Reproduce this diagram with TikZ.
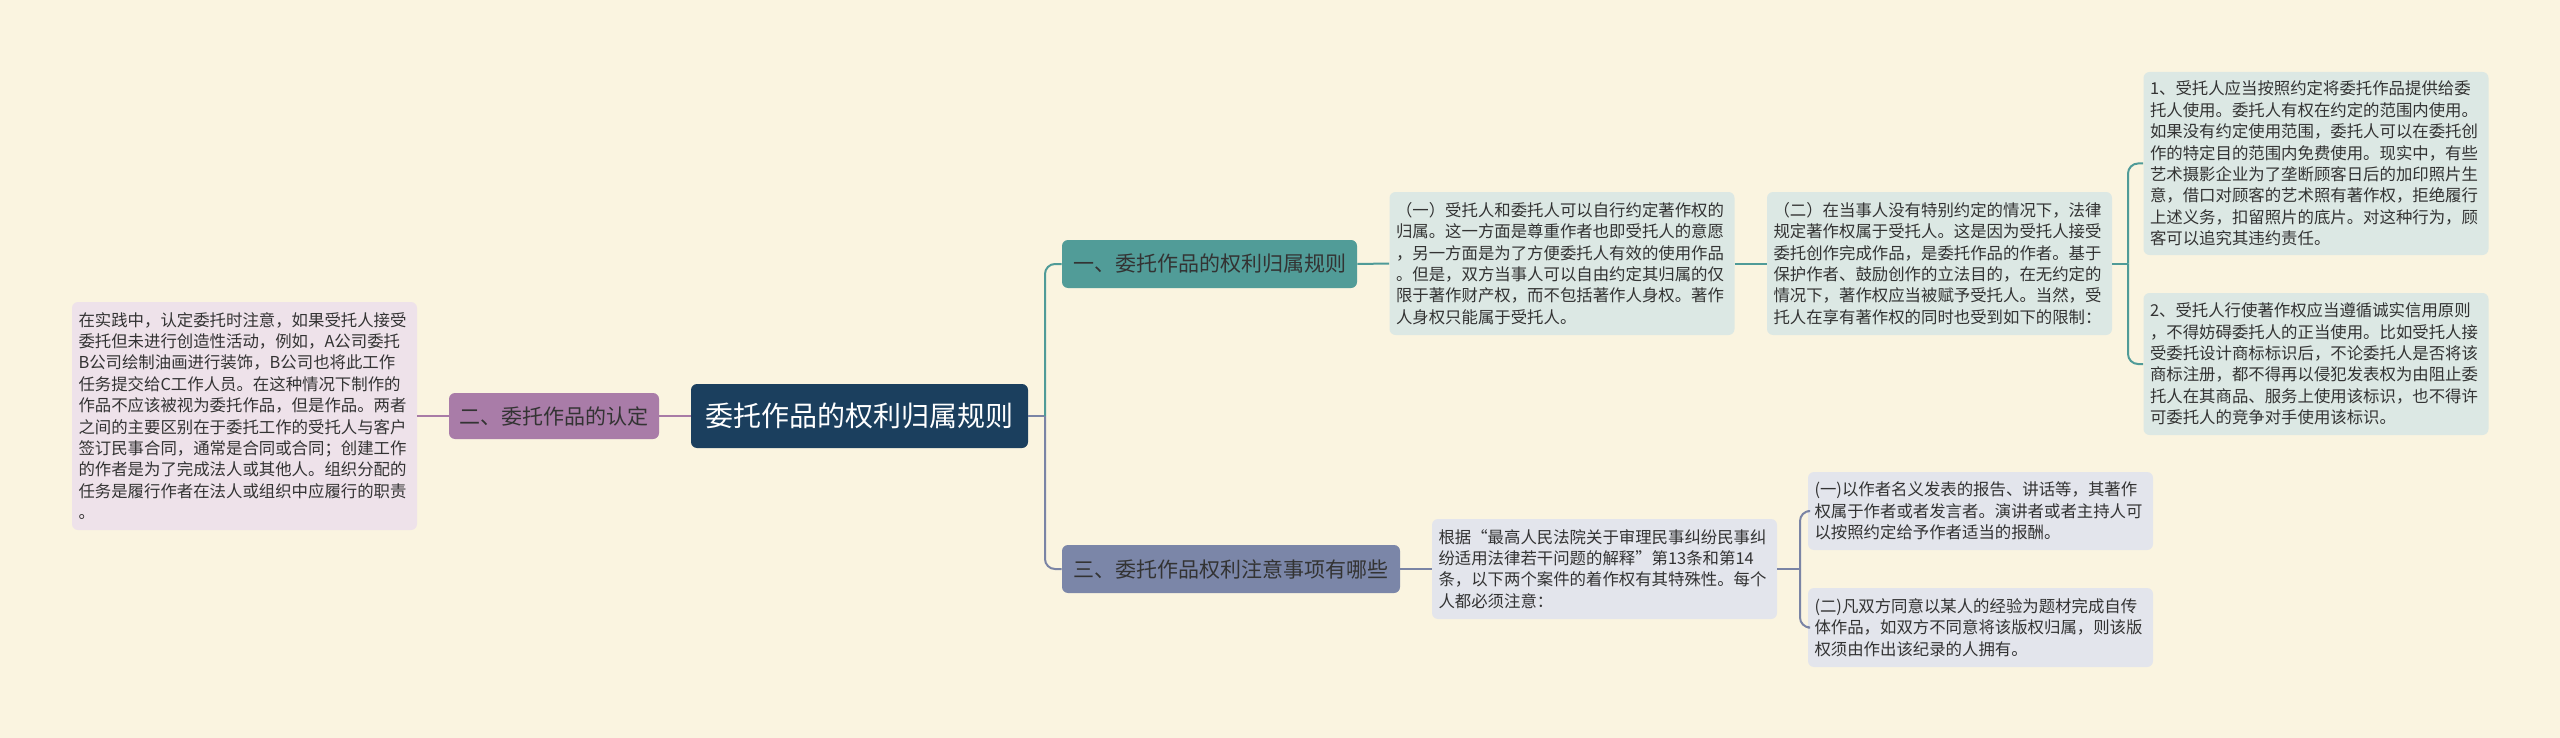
\documentclass[tikz,border=0pt]{standalone}
\usepackage{fontspec}
\setmainfont{Noto Sans CJK SC}
\definecolor{bg}{HTML}{FAF4E0}
\definecolor{rootfill}{HTML}{1B3F5E}
\definecolor{tealfill}{HTML}{519C98}
\definecolor{purplefill}{HTML}{A97CA8}
\definecolor{slatefill}{HTML}{7B86A8}
\definecolor{tealleaf}{HTML}{DCE8E4}
\definecolor{purpleleaf}{HTML}{EEE2EA}
\definecolor{slateleaf}{HTML}{E3E5EC}
\definecolor{tealline}{HTML}{4F9B98}
\definecolor{purpleline}{HTML}{A87BA6}
\definecolor{slateline}{HTML}{7A84A5}
\definecolor{txt}{HTML}{333333}
\begin{document}
\begin{tikzpicture}[x=0.5pt,y=-0.5pt,
  base/.style={rounded corners=3pt, inner ysep=0pt, text=txt},
  rootbox/.style={base, fill=rootfill, text=white, font=\fontsize{14pt}{16pt}\selectfont,
    minimum width=168.5pt, minimum height=32pt, inner xsep=0pt},
  branch/.style={base, font=\fontsize{10.5pt}{12pt}\selectfont, minimum height=24pt, inner xsep=0pt},
  leaf/.style={base, font=\fontsize{8.2pt}{10.7pt}\selectfont, align=left,
    text width=166pt, inner xsep=3.25pt},
  conn/.style={line width=1pt},
  elbow/.style={line width=1pt, rounded corners=5pt}
]
\fill[bg] (0,0) rectangle (2560,738);
\useasboundingbox (0,0) rectangle (2560,738);

% root and branches
\node[rootbox] (root) at (859.5,416) {委托作品的权利归属规则};
\node[branch, fill=tealfill, minimum width=147.5pt] (b1) at (1209.5,264) {一、委托作品的权利归属规则};
\node[branch, fill=purplefill, minimum width=105pt, minimum height=23pt] (b2) at (554,416) {二、委托作品的认定};
\node[branch, fill=slatefill, minimum width=169pt] (b3) at (1231,569) {三、委托作品权利注意事项有哪些};

% left leaf
\node[leaf, fill=purpleleaf, minimum height=114pt] (lL) at (244.5,416) {在实践中，认定委托时注意，如果受托人接受\\委托但未进行创造性活动，例如，A公司委托\\B公司绘制油画进行装饰，B公司也将此工作\\任务提交给C工作人员。在这种情况下制作的\\作品不应该被视为委托作品，但是作品。两者\\之间的主要区别在于委托工作的受托人与客户\\签订民事合同，通常是合同或合同；创建工作\\的作者是为了完成法人或其他人。组织分配的\\任务是履行作者在法人或组织中应履行的职责\\。};

% teal leaves
\node[leaf, fill=tealleaf, minimum height=71.5pt] (l1) at (1562,263.5) {（一）受托人和委托人可以自行约定著作权的\\归属。这一方面是尊重作者也即受托人的意愿\\，另一方面是为了方便委托人有效的使用作品\\。但是，双方当事人可以自由约定其归属的仅\\限于著作财产权，而不包括著作人身权。著作\\人身权只能属于受托人。};
\node[leaf, fill=tealleaf, minimum height=71.5pt] (l2) at (1939.5,263.5) {（二）在当事人没有特别约定的情况下，法律\\规定著作权属于受托人。这是因为受托人接受\\委托创作完成作品，是委托作品的作者。基于\\保护作者、鼓励创作的立法目的，在无约定的\\情况下，著作权应当被赋予受托人。当然，受\\托人在享有著作权的同时也受到如下的限制：};
\node[leaf, fill=tealleaf, minimum height=91.5pt] (l3) at (2316,163.5) {1、受托人应当按照约定将委托作品提供给委\\托人使用。委托人有权在约定的范围内使用。\\如果没有约定使用范围，委托人可以在委托创\\作的特定目的范围内免费使用。现实中，有些\\艺术摄影企业为了垄断顾客日后的加印照片生\\意，借口对顾客的艺术照有著作权，拒绝履行\\上述义务，扣留照片的底片。对这种行为，顾\\客可以追究其违约责任。};
\node[leaf, fill=tealleaf, minimum height=71pt] (l4) at (2316,364) {2、受托人行使著作权应当遵循诚实信用原则\\，不得妨碍委托人的正当使用。比如受托人接\\受委托设计商标标识后，不论委托人是否将该\\商标注册，都不得再以侵犯发表权为由阻止委\\托人在其商品、服务上使用该标识，也不得许\\可委托人的竞争对手使用该标识。};

% slate leaves
\node[leaf, fill=slateleaf, minimum height=50pt] (l5) at (1604.5,569) {根据“最高人民法院关于审理民事纠纷民事纠\\纷适用法律若干问题的解释”第13条和第14\\条，以下两个案件的着作权有其特殊性。每个\\人都必须注意：};
\node[leaf, fill=slateleaf, minimum height=39pt] (l6) at (1980.5,511) {(一)以作者名义发表的报告、讲话等，其著作\\权属于作者或者发言者。演讲者或者主持人可\\以按照约定给予作者适当的报酬。};
\node[leaf, fill=slateleaf, minimum height=39.5pt] (l7) at (1980.5,627.5) {(二)凡双方同意以某人的经验为题材完成自传\\体作品，如双方不同意将该版权归属，则该版\\权须由作出该纪录的人拥有。};

% junctions
\coordinate (j1) at (1045,416);
\coordinate (j2) at (2128,263.5);
\coordinate (j3) at (1800,569);

% connectors
\draw[conn, slateline] (root.east) -- (j1);
\draw[elbow, tealline] (j1) |- (b1.west);
\draw[elbow, slateline] (j1) |- (b3.west);
\draw[conn, purpleline] (root.west) -- (b2.east);
\draw[conn, purpleline] (b2.west) -- (lL.east);
\draw[conn, tealline] (b1.east) -- (l1.west);
\draw[conn, tealline] (l1.east) -- (l2.west);
\draw[conn, tealline] (l2.east) -- (j2);
\draw[elbow, tealline] (j2) |- (l3.west);
\draw[elbow, tealline] (j2) |- (l4.west);
\draw[conn, slateline] (b3.east) -- (l5.west);
\draw[conn, slateline] (l5.east) -- (j3);
\draw[elbow, slateline] (j3) |- (l6.west);
\draw[elbow, slateline] (j3) |- (l7.west);
\end{tikzpicture}
\end{document}
